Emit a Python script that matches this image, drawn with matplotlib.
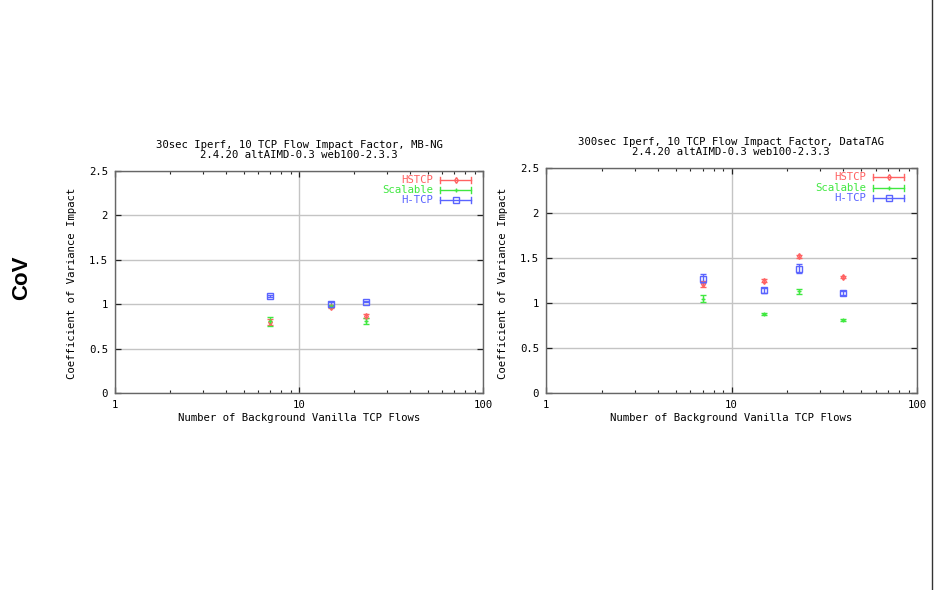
import matplotlib
matplotlib.use("Agg")
import matplotlib.pyplot as plt
from matplotlib.ticker import LogLocator, NullFormatter, FixedLocator
from matplotlib.lines import Line2D

W, H = 935, 590

# ---------------- data ----------------
series_names = ["HSTCP", "Scalable", "H-TCP"]
series_colors = ["#ff6262", "#40e840", "#5a64ff"]
series_markers = ["d", "+", "s"]

left_title = "30sec Iperf, 10 TCP Flow Impact Factor, MB-NG\n2.4.20 altAIMD-0.3 web100-2.3.3"
left_x = [7, 15, 23]
left_hstcp = [0.80, 0.97, 0.87]
left_hstcp_err = [0.03, 0.01, 0.02]
left_scalable = [0.81, 0.98, 0.81]
left_scalable_err = [0.05, 0.01, 0.03]
left_htcp = [1.09, 1.00, 1.03]
left_htcp_err = [0.01, 0.02, 0.01]

right_title = "300sec Iperf, 10 TCP Flow Impact Factor, DataTAG\n2.4.20 altAIMD-0.3 web100-2.3.3"
right_x = [7, 15, 23, 40]
right_hstcp = [1.21, 1.25, 1.52, 1.29]
right_hstcp_err = [0.03, 0.02, 0.015, 0.015]
right_scalable = [1.05, 0.88, 1.13, 0.81]
right_scalable_err = [0.04, 0.01, 0.03, 0.01]
right_htcp = [1.27, 1.14, 1.38, 1.11]
right_htcp_err = [0.05, 0.03, 0.05, 0.02]

x_ticks = [1, 10, 100]
x_ticklabels = ["1", "10", "100"]
y_ticks = [0, 0.5, 1, 1.5, 2, 2.5]
y_ticklabels = ["0", "0.5", "1", "1.5", "2", "2.5"]
xlabel = "Number of Background Vanilla TCP Flows"
ylabel = "Coefficient of Variance Impact"
side_label = "CoV"

MONO = "DejaVu Sans Mono"
FS = 7.7

fig = plt.figure(figsize=(W / 100, H / 100), dpi=100)
fig.patch.set_facecolor("white")


def px_axes(x0, y0, x1, y1):
    return fig.add_axes([x0 / W, 1 - y1 / H, (x1 - x0) / W, (y1 - y0) / H])


def draw_panel(ax, title, xs, vals, errs, title_xy, ylab_x, xlab_y, leg):
    ax.set_xscale("log")
    ax.set_xlim(1, 100)
    ax.set_ylim(0, 2.5)
    ax.set_facecolor("white")
    for sp in ax.spines.values():
        sp.set_color("#666666")
        sp.set_linewidth(1.0)
    ax.yaxis.set_major_locator(FixedLocator(y_ticks))
    ax.set_yticklabels(y_ticklabels, fontfamily=MONO, fontsize=FS)
    ax.xaxis.set_major_locator(FixedLocator(x_ticks))
    ax.set_xticklabels(x_ticklabels, fontfamily=MONO, fontsize=FS)
    ax.xaxis.set_minor_locator(LogLocator(base=10, subs=range(2, 10)))
    ax.xaxis.set_minor_formatter(NullFormatter())
    ax.tick_params(axis="both", which="major", direction="in", length=4,
                   width=0.9, color="#222222", top=True, right=True, pad=5)
    ax.tick_params(axis="x", which="minor", direction="in", length=2,
                   width=0.8, color="#222222", top=True)
    ax.grid(True, which="major", color="#c4c4c4", linewidth=1.0)
    ax.set_axisbelow(True)

    for v, e, c, m in zip(vals, errs, series_colors, series_markers):
        ax.errorbar(xs, v, yerr=e, fmt=m, color=c, ecolor=c, elinewidth=1.0,
                    capsize=2.5, capthick=1.0, markersize=4 if m == "s" else 3,
                    markerfacecolor="none", markeredgewidth=1.0, zorder=3)

    fig.text(title_xy[0] / W, 1 - title_xy[1] / H, title, ha="center", va="center",
             fontfamily=MONO, fontsize=FS, linespacing=1.0)
    fig.text(ylab_x / W, 1 - 283 / H, ylabel, rotation=90, ha="center", va="center",
             fontfamily=MONO, fontsize=FS)
    fig.text(title_xy[0] / W, 1 - xlab_y / H, xlabel, ha="center", va="center",
             fontfamily=MONO, fontsize=FS)

    # key (legend) drawn at top right
    text_right, s0, s1, rows = leg
    for name, c, m, ry in zip(series_names, series_colors, series_markers, rows):
        fig.text(text_right / W, 1 - ry / H, name, ha="right", va="center",
                 fontfamily=MONO, fontsize=FS, color=c)
        yy = 1 - ry / H
        fig.add_artist(Line2D([s0 / W, s1 / W], [yy, yy], color=c, lw=1.0))
        for sx in (s0, s1):
            fig.add_artist(Line2D([sx / W, sx / W], [yy - 3 / H, yy + 3 / H], color=c, lw=1.0))
        fig.add_artist(Line2D([(s0 + s1) / 2 / W], [yy], color=c, marker=m,
                              markersize=4 if m == "s" else 3, markerfacecolor="none",
                              markeredgewidth=1.0, lw=0))


axL = px_axes(115, 171, 483, 393)
draw_panel(axL, left_title,
           left_x, [left_hstcp, left_scalable, left_htcp],
           [left_hstcp_err, left_scalable_err, left_htcp_err],
           (299, 150), 72, 418,
           (433, 440, 471, [180, 190, 200]))

axR = px_axes(546, 168, 917, 393)
draw_panel(axR, right_title,
           right_x, [right_hstcp, right_scalable, right_htcp],
           [right_hstcp_err, right_scalable_err, right_htcp_err],
           (731, 147), 503, 418,
           (866, 873, 904, [177, 188, 198]))

fig.text(22 / W, 1 - 278 / H, side_label, rotation=90, ha="center", va="center",
         fontfamily="Liberation Sans", fontweight="bold", fontsize=16)

fig.add_artist(Line2D([932 / W, 932 / W], [0, 1], color="#333333", lw=1.0))

fig.savefig("out.png", dpi=100, facecolor="white")
